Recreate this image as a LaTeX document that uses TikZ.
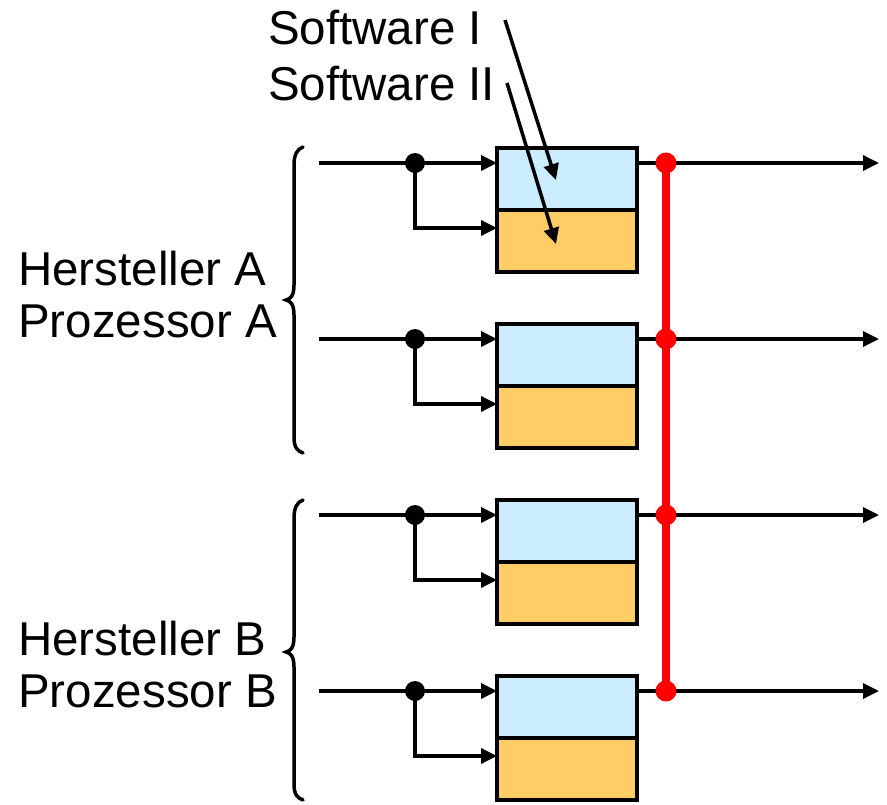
\documentclass[tikz,border=0pt]{standalone}
\usepackage{fontspec}
\setmainfont{Liberation Sans}
\usetikzlibrary{arrows.meta,calc}
\definecolor{swone}{HTML}{CCECFF}
\definecolor{swtwo}{HTML}{FFCC66}
\definecolor{busred}{HTML}{FF0000}
\tikzset{
  half/.style={draw=black,line width=4pt,minimum width=140pt,minimum height=62pt,inner sep=0pt,outer sep=0pt},
  upperhalf/.style={half,fill=swone},
  lowerhalf/.style={half,fill=swtwo},
  wire/.style={line width=3.5pt,draw=black},
  arr/.style={wire,-{Triangle[length=16pt,width=15pt]}},
  jdot/.style={circle,fill=black,minimum size=20pt,inner sep=0pt},
  rdot/.style={circle,fill=busred,minimum size=21pt,inner sep=0pt},
  bus/.style={line width=7.5pt,draw=busred},
  lbl/.style={font=\fontsize{47.5}{54}\selectfont,inner sep=0pt,anchor=base west},
  bracepath/.style={line width=3.5pt,draw=black,line cap=round}
}
\begin{document}
\begin{tikzpicture}[x=1pt,y=-1pt]
\useasboundingbox (0,0) rectangle (887,804);
\foreach \i/\T in {1/147,2/323,3/499,4/675}{
  \node[upperhalf] (up\i) at (567,\T+32) {};
  \node[lowerhalf] (lo\i) at (567,\T+94) {};
  \coordinate (in\i) at (319,\T+16);
  \node[jdot] (j\i) at (415,\T+16) {};
  \coordinate (ua\i) at (up\i.west |- j\i);
  \coordinate (la\i) at (497,\T+81);
  \coordinate (ub\i) at (up\i.east |- j\i);
  \coordinate (out\i) at (879,\T+16);
  \draw[wire] (in\i) -- (j\i.center);
  \draw[arr] (j\i.center) -- (ua\i);
  \draw[arr] (j\i.center) |- (la\i);
  \draw[arr] (ub\i) -- (out\i);
}
\draw[bus] (666,163) -- (666,691);
\foreach \i/\T in {1/147,2/323,3/499,4/675}{
  \node[rdot] (r\i) at (666,\T+16) {};
}
% labels
\node[lbl] (sw1) at (268,44) {Software I};
\node[lbl] (sw2) at (268,100) {Software II};
\node[lbl] (ha) at (18,285) {Hersteller A};
\node[lbl] (pa) at (18,337) {Prozessor A};
\node[lbl] (hb) at (18,655) {Hersteller B};
\node[lbl] (pb) at (18,707) {Prozessor B};
% software arrows
\coordinate (s1a) at (505,20);
\coordinate (s1b) at (556,180);
\coordinate (s2a) at (507,83);
\coordinate (s2b) at (556,244);
\draw[arr] (s1a) -- (s1b);
\draw[arr] (s2a) -- (s2b);
% braces
\draw[bracepath] (303,147) .. controls (297,149) and (294,155) .. (294,165) -- (294,285) .. controls (294,295) and (291,299) .. (286,300) .. controls (291,301) and (294,305) .. (294,315) -- (294,437) .. controls (294,447) and (297,451) .. (303,453);
\draw[bracepath] (303,500) .. controls (297,502) and (294,508) .. (294,518) -- (294,637) .. controls (294,647) and (291,651) .. (286,652) .. controls (291,653) and (294,657) .. (294,667) -- (294,784) .. controls (294,794) and (297,798) .. (303,800);
\end{tikzpicture}
\end{document}
